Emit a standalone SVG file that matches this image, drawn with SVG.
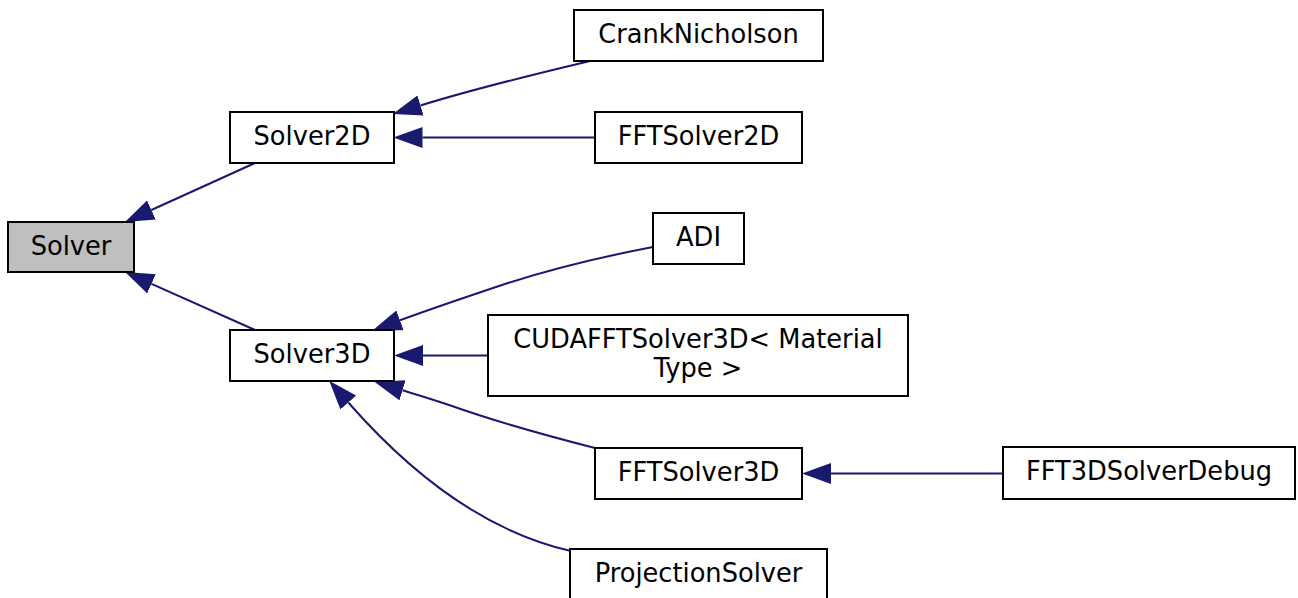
<svg xmlns="http://www.w3.org/2000/svg" width="1298" height="598" viewBox="0 0 1298 598">
  <style>
    .box { fill: #ffffff; stroke: #000000; stroke-width: 2; }
    .root { fill: #bfbfbf; }
    .lbl { font-family: "DejaVu Sans", "Liberation Sans", sans-serif; font-size: 25.7px; fill: #000000; text-anchor: middle; }
    .edge { fill: none; stroke: #191970; stroke-width: 2; marker-end: url(#head); }
  </style>
  <defs>
    <marker id="head" markerUnits="userSpaceOnUse" viewBox="0 0 29 21" markerWidth="29" markerHeight="21" refX="0" refY="10.5" orient="auto">
      <path d="M0,0 L29,10.5 L0,21 z" fill="#191970"/>
    </marker>
  </defs>
  <rect width="1298" height="598" fill="#ffffff"/>

  <!-- inheritance edges, arrowheads point at the base class -->
  <g id="edges">
    <path class="edge" d="M255,163 L151.4,210"/>
    <path class="edge" d="M255,330 L151.5,283.8"/>
    <path class="edge" d="M590,61 C548,71 480,87 420.5,105.5"/>
    <path class="edge" d="M595,137.5 L422.5,137.5"/>
    <path class="edge" d="M653,247 C611,255 555,268 508,283 C472,295 436,307 400,320.3"/>
    <path class="edge" d="M488,355.5 L423,355.5"/>
    <path class="edge" d="M595,448 C556,438 497,422 452,406 C435,400 418,395 402.5,390.3"/>
    <path class="edge" d="M571,551 C500,535 425,490 348.3,402.5"/>
    <path class="edge" d="M1003,473.5 L831,473.5"/>
  </g>

  <g id="node-solver">
    <rect class="box root" x="8" y="222" width="126" height="50"/>
    <text class="lbl" x="71" y="254.5">Solver</text>
  </g>
  <g id="node-solver2d">
    <rect class="box" x="230" y="112" width="164" height="51"/>
    <text class="lbl" x="312" y="144.5">Solver2D</text>
  </g>
  <g id="node-solver3d">
    <rect class="box" x="230" y="330" width="164" height="51"/>
    <text class="lbl" x="312" y="362.5">Solver3D</text>
  </g>
  <g id="node-cranknicholson">
    <rect class="box" x="574" y="10" width="249" height="51"/>
    <text class="lbl" x="698.5" y="42.5">CrankNicholson</text>
  </g>
  <g id="node-fftsolver2d">
    <rect class="box" x="595" y="112" width="207" height="51"/>
    <text class="lbl" x="698.5" y="144.5">FFTSolver2D</text>
  </g>
  <g id="node-adi">
    <rect class="box" x="653" y="213" width="91" height="51"/>
    <text class="lbl" x="698.5" y="245.5">ADI</text>
  </g>
  <g id="node-cudafftsolver3d">
    <rect class="box" x="488" y="315" width="420" height="81"/>
    <text class="lbl" x="698" y="347.5">CUDAFFTSolver3D&lt; Material</text>
    <text class="lbl" x="698" y="376.5">Type &gt;</text>
  </g>
  <g id="node-fftsolver3d">
    <rect class="box" x="595" y="448" width="207" height="51"/>
    <text class="lbl" x="698.5" y="480.5">FFTSolver3D</text>
  </g>
  <g id="node-projectionsolver">
    <rect class="box" x="570" y="549" width="257" height="51"/>
    <text class="lbl" x="698.5" y="581.5">ProjectionSolver</text>
  </g>
  <g id="node-fft3dsolverdebug">
    <rect class="box" x="1003" y="447" width="292" height="52"/>
    <text class="lbl" x="1149" y="479.5">FFT3DSolverDebug</text>
  </g>
</svg>
